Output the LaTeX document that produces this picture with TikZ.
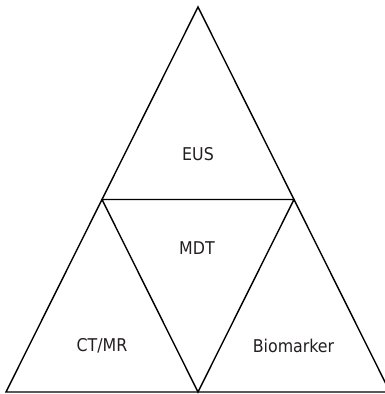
\documentclass[tikz,border=0pt]{standalone}
\usepackage{fontspec}
\newfontfamily\labelfont{DejaVu Sans Condensed}
\definecolor{ink}{HTML}{231F20}
\begin{document}
\begin{tikzpicture}[x=1pt,y=1pt,
  edge/.style={draw=black,line width=1.4pt,line join=miter},
  lbl/.style={font=\labelfont\fontsize{17.6}{20}\selectfont,text=ink,inner sep=0pt}]
\useasboundingbox (0,0) rectangle (385,394);
\clip (0,0) rectangle (385,394);
\coordinate (A) at (198,387);
\coordinate (BL) at (6,2);
\coordinate (BR) at (390,2);
\coordinate (ML) at (102,194.5);
\coordinate (MR) at (294,194.5);
\coordinate (BM) at (198,2);
\draw[edge] (A) -- (BL) -- (BR) -- cycle;
\draw[edge] (ML) -- (MR) -- (BM) -- cycle;
\node[lbl] (eus) at (198,240) {EUS};
\node[lbl] (mdt) at (197,145.5) {MDT};
\node[lbl] (ct) at (102,48) {CT/MR};
\node[lbl] (bio) at (293.5,48) {Biomarker};
\end{tikzpicture}
\end{document}
